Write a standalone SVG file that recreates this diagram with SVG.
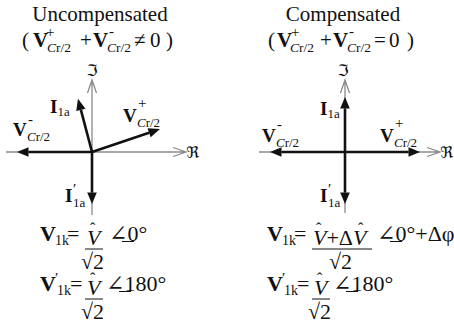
<svg xmlns="http://www.w3.org/2000/svg" width="454" height="324" viewBox="0 0 454 324" font-family="Liberation Serif, Tinos, Times New Roman, DejaVu Serif, serif">
<style>
text{font-family:Liberation Serif, Tinos, Times New Roman, DejaVu Serif, serif;fill:#111}
.t{font-size:21px}
.b{font-weight:bold}
.lab{font-size:19px;font-weight:bold}
.sub{font-size:13px;font-weight:normal}
.tsub{font-size:13.5px;font-weight:normal}
.sup{font-size:15px;font-weight:normal}
.it{font-style:italic}
.fr{font-family:DejaVu Serif, DejaVu Sans, serif;font-size:16px}
.eq{font-size:22px}
.hat{font-size:16px}
.axis{stroke:#8a8a8a;stroke-width:1.3;fill:none}
.vec{stroke:#111;stroke-width:2.6;fill:none;marker-end:url(#ah)}
.ln{stroke:#111;stroke-width:1}
</style>
<defs>
<marker id="ah" markerUnits="userSpaceOnUse" markerWidth="14" markerHeight="12" refX="0" refY="0" viewBox="0 -6 13 12" orient="auto"><path d="M0,-4.8 L11.5,0 L0,4.8 z" fill="#111"/></marker>
</defs>

<g id="title-left">
<text class="t" x="100" y="21" text-anchor="middle">Uncompensated</text>
<text class="t" x="22" y="47">(</text>
<text class="t b" x="33" y="47">V</text>
<text class="sup" x="46" y="37">+</text>
<text x="47" y="52" class="tsub"><tspan class="it">C</tspan>r/2</text>
<text class="t" x="80" y="47">+</text>
<text class="t b" x="93" y="47">V</text>
<text class="sup b" x="109" y="36">-</text>
<text x="107" y="52" class="tsub"><tspan class="it">C</tspan>r/2</text>
<text class="t" x="134" y="47">≠</text>
<text class="t" x="150" y="47">0</text>
<text class="t" x="166" y="47">)</text>
</g>
<g id="title-right">
<text class="t" x="343" y="21" text-anchor="middle">Compensated</text>
<text class="t" x="268" y="47">(</text>
<text class="t b" x="277" y="47">V</text>
<text class="sup" x="291" y="37">+</text>
<text x="290" y="52" class="tsub"><tspan class="it">C</tspan>r/2</text>
<text class="t" x="320" y="47">+</text>
<text class="t b" x="333" y="47">V</text>
<text class="sup b" x="349" y="36">-</text>
<text x="347" y="52" class="tsub"><tspan class="it">C</tspan>r/2</text>
<text class="t" x="374" y="47">=</text>
<text class="t" x="389" y="47">0</text>
<text class="t" x="407" y="47">)</text>
</g>

<g id="axes-left">
<path class="axis" d="M92,215 V81 M87.5,93 L92,80 L96.5,93 M6,152 H185 M173,147.5 L186,152 L173,156.5"/>
<text class="fr" x="92" y="76" text-anchor="middle">ℑ</text>
<text class="fr" x="186" y="158">ℜ</text>
</g>
<g id="axes-right">
<path class="axis" d="M345,213 V81 M340.5,93 L345,80 L349.5,93 M259,152 H439 M427,147.5 L440,152 L427,156.5"/>
<text class="fr" x="343" y="76" text-anchor="middle">ℑ</text>
<text class="fr" x="440" y="158">ℜ</text>
</g>

<g id="connectors">
<line class="vec" x1="92" y1="152" x2="28.5" y2="152"/>
<line class="vec" x1="92" y1="152" x2="80.9" y2="109.9"/>
<line class="vec" x1="92" y1="152" x2="149.1" y2="132.7"/>
<line class="vec" x1="92" y1="152" x2="92" y2="192.5"/>
<line class="vec" x1="345" y1="152" x2="345" y2="108.5"/>
<line class="vec" x1="345" y1="152" x2="408.5" y2="152"/>
<line class="vec" x1="345" y1="152" x2="281.5" y2="152"/>
<line class="vec" x1="345" y1="152" x2="345" y2="192.5"/>
</g>

<g id="lbl-I1a-left"><text class="lab" x="50" y="113">I<tspan class="sub" dy="3">1a</tspan></text></g>
<g id="lbl-Vp-left">
<text class="lab" x="123" y="122">V</text>
<text class="sup" x="138" y="108">+</text>
<text class="sub" x="137" y="127"><tspan class="it">C</tspan>r/2</text>
</g>
<g id="lbl-Vm-left">
<text class="lab" x="13" y="136">V</text>
<text class="sup b" x="28" y="124">-</text>
<text class="sub" x="27" y="141"><tspan class="it">C</tspan>r/2</text>
</g>
<g id="lbl-I1ap-left">
<text class="lab" x="65" y="202">I</text>
<text class="sup" x="73" y="194">′</text>
<text class="sub" x="73" y="207">1a</text>
</g>

<g id="lbl-I1a-right"><text class="lab" x="320" y="115">I<tspan class="sub" dy="3">1a</tspan></text></g>
<g id="lbl-Vp-right">
<text class="lab" x="380" y="142">V</text>
<text class="sup" x="395" y="128">+</text>
<text class="sub" x="394" y="147"><tspan class="it">C</tspan>r/2</text>
</g>
<g id="lbl-Vm-right">
<text class="lab" x="262" y="142">V</text>
<text class="sup b" x="277" y="129">-</text>
<text class="sub" x="276" y="147"><tspan class="it">C</tspan>r/2</text>
</g>
<g id="lbl-I1ap-right">
<text class="lab" x="320" y="202">I</text>
<text class="sup" x="328" y="194">′</text>
<text class="sub" x="328" y="207">1a</text>
</g>

<g id="eq-left-1">
<text class="eq b" x="40" y="241">V</text>
<text class="sub" x="55" y="245" style="font-size:14px">1k</text>
<text class="eq" x="67" y="241">=</text>
<text class="eq it" x="87" y="245">V</text>
<text class="hat" x="90" y="234">ˆ</text>
<line class="ln" x1="85" y1="249" x2="103" y2="249"/>
<text class="eq" x="81" y="269">√2</text>
<text class="eq" x="109" y="241">∠0°</text>
<line class="ln" x1="122" y1="241.5" x2="134" y2="241.5"/>
</g>
<g id="eq-left-2">
<text class="eq b" x="40" y="291">V</text>
<text class="sup" x="55" y="283">′</text>
<text class="sub" x="57" y="295" style="font-size:14px">1k</text>
<text class="eq" x="70" y="291">=</text>
<text class="eq it" x="87" y="295">V</text>
<text class="hat" x="90" y="284">ˆ</text>
<line class="ln" x1="85" y1="299" x2="103" y2="299"/>
<text class="eq" x="81" y="319">√2</text>
<text class="eq" x="106" y="291">∠180°</text>
<line class="ln" x1="119" y1="291.5" x2="131" y2="291.5"/>
</g>

<g id="eq-right-1">
<text class="eq b" x="267" y="241">V</text>
<text class="sub" x="282" y="245" style="font-size:14px">1k</text>
<text class="eq" x="294" y="241">=</text>
<text class="eq" x="313" y="245"><tspan class="it">V</tspan>+Δ<tspan class="it">V</tspan></text>
<text class="hat" x="316" y="234">ˆ</text>
<text class="hat" x="358" y="234">ˆ</text>
<line class="ln" x1="312" y1="249" x2="372" y2="249"/>
<text class="eq" x="329" y="269">√2</text>
<text class="eq" x="377" y="241">∠0°+Δφ</text>
<line class="ln" x1="390" y1="241.5" x2="402" y2="241.5"/>
</g>
<g id="eq-right-2">
<text class="eq b" x="267" y="291">V</text>
<text class="sup" x="282" y="283">′</text>
<text class="sub" x="284" y="295" style="font-size:14px">1k</text>
<text class="eq" x="297" y="291">=</text>
<text class="eq it" x="314" y="295">V</text>
<text class="hat" x="317" y="284">ˆ</text>
<line class="ln" x1="312" y1="299" x2="330" y2="299"/>
<text class="eq" x="308" y="319">√2</text>
<text class="eq" x="333" y="291">∠180°</text>
<line class="ln" x1="346" y1="291.5" x2="358" y2="291.5"/>
</g>
</svg>
